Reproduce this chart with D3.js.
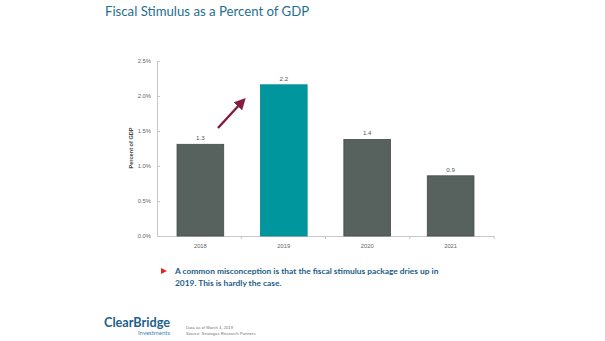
<!DOCTYPE html>
<html lang="en">
<head>
  <meta charset="UTF-8">
  <title>Fiscal Stimulus as a Percent of GDP</title>
  <script src="https://d3js.org/d3.v7.min.js"></script>
  <style>
    body { margin: 0; background: #fff; }
    svg { display: block; }
  </style>
</head>
<body>
  <svg width="605" height="341"></svg>

  <script>
    // Chart data
    const years = ['2018', '2019', '2020', '2021'];
    const stimulus = [1.31, 2.16, 1.38, 0.86];
    const highlightYear = '2019';
    const yTicks = [0, 0.5, 1.0, 1.5, 2.0, 2.5];

    const svg = d3.select('svg');

    // Title
    svg.append('text')
      .attr('x', 105)
      .attr('y', 16)
      .attr('font-family', 'Lato, sans-serif')
      .attr('font-size', 13.2)
      .attr('fill', '#1f6f8f')
      .text('Fiscal Stimulus as a Percent of GDP');

    // Scales
    const x = d3.scaleBand().domain(years).range([157, 494]).paddingInner(0.44).paddingOuter(0.24);
    const y = d3.scaleLinear().domain([0, 2.5]).range([236, 61]);

    // Y axis
    const yAxis = svg.append('g')
      .attr('transform', 'translate(157,0)')
      .call(d3.axisLeft(y).tickValues(yTicks).tickSize(-3).tickPadding(6)
        .tickFormat(d => d.toFixed(1) + '%'));
    yAxis.select('.domain').attr('stroke', '#c8c8c8');
    yAxis.selectAll('.tick line').attr('stroke', '#c8c8c8');
    yAxis.selectAll('text')
      .attr('font-family', 'Liberation Sans, Arial, sans-serif')
      .attr('font-size', 5.8)
      .attr('fill', '#666');

    // X axis
    const xAxis = svg.append('g')
      .attr('transform', 'translate(0,236)')
      .call(d3.axisBottom(x).tickSize(0).tickPadding(8));
    xAxis.select('.domain').attr('stroke', '#c8c8c8');
    xAxis.selectAll('text')
      .attr('font-family', 'Liberation Sans, Arial, sans-serif')
      .attr('font-size', 5.8)
      .attr('fill', '#666');
    // boundary ticks between categories
    xAxis.selectAll('.sep')
      .data(d3.range(1, years.length + 1))
      .enter().append('line')
      .attr('x1', i => 157 + i * (494 - 157) / years.length)
      .attr('x2', i => 157 + i * (494 - 157) / years.length)
      .attr('y1', 0).attr('y2', 3)
      .attr('stroke', '#c8c8c8');

    // Y axis title
    svg.append('text')
      .attr('transform', 'translate(133,148) rotate(-90)')
      .attr('text-anchor', 'middle')
      .attr('font-family', 'Liberation Sans, Arial, sans-serif')
      .attr('font-weight', 'bold')
      .attr('font-size', 5.6)
      .attr('fill', '#444')
      .text('Percent of GDP');

    // Bars
    svg.selectAll('.bar')
      .data(years)
      .enter().append('rect')
      .attr('class', 'bar')
      .attr('x', d => x(d))
      .attr('width', x.bandwidth())
      .attr('y', (d, i) => y(stimulus[i]))
      .attr('height', (d, i) => y(0) - y(stimulus[i]))
      .attr('fill', d => d === highlightYear ? '#00969e' : '#57615d')
      .attr('stroke', d => d === highlightYear ? '#008a92' : '#444c49')
      .attr('stroke-width', 0.8);

    // Value labels
    svg.selectAll('.val')
      .data(years)
      .enter().append('text')
      .attr('class', 'val')
      .attr('x', d => x(d) + x.bandwidth() / 2)
      .attr('y', (d, i) => y(stimulus[i]) - 4)
      .attr('text-anchor', 'middle')
      .attr('font-family', 'Liberation Sans, Arial, sans-serif')
      .attr('font-size', 6.2)
      .attr('fill', '#555')
      .text((d, i) => stimulus[i].toFixed(1));

    // Arrow toward the highlighted bar
    const defs = svg.append('defs');
    defs.append('marker')
      .attr('id', 'head')
      .attr('viewBox', '0 0 10 10')
      .attr('refX', 4).attr('refY', 5)
      .attr('markerWidth', 4.8).attr('markerHeight', 4.8)
      .attr('orient', 'auto')
      .append('path')
      .attr('d', 'M0,0 L10,5 L0,10 z')
      .attr('fill', '#851b3f');

    svg.append('line')
      .attr('x1', 218).attr('y1', 128)
      .attr('x2', 241).attr('y2', 103)
      .attr('stroke', '#851b3f')
      .attr('stroke-width', 2.4)
      .attr('marker-end', 'url(#head)');

    // Commentary bullet
    svg.append('path')
      .attr('d', 'M161,268 L167,271 L161,274 z')
      .attr('fill', '#e0262b');

    const note = svg.append('text')
      .attr('font-family', 'Lato, sans-serif')
      .attr('font-weight', 'bold')
      .attr('font-size', 8.4)
      .attr('fill', '#1b5d86');
    note.append('tspan').attr('x', 175).attr('y', 274)
      .text('A common misconception is that the fiscal stimulus package dries up in');
    note.append('tspan').attr('x', 175).attr('y', 286)
      .text('2019. This is hardly the case.');

    // Logo
    svg.append('text')
      .attr('x', 104).attr('y', 327)
      .attr('font-family', 'Lato, sans-serif')
      .attr('font-weight', 'bold')
      .attr('font-size', 14)
      .attr('textLength', 66)
      .attr('lengthAdjust', 'spacingAndGlyphs')
      .attr('fill', '#1d5f8d')
      .text('ClearBridge');
    svg.append('text')
      .attr('x', 170).attr('y', 335)
      .attr('text-anchor', 'end')
      .attr('font-family', 'Lato, sans-serif')
      .attr('font-size', 6)
      .attr('fill', '#3d86b8')
      .text('Investments');

    // Footnotes
    const foot = svg.append('text')
      .attr('font-family', 'Liberation Sans, Arial, sans-serif')
      .attr('font-size', 4.2)
      .attr('fill', '#777');
    foot.append('tspan').attr('x', 186).attr('y', 329).text('Data as of March 4, 2019');
    foot.append('tspan').attr('x', 186).attr('y', 335).text('Source: Strategas Research Partners');
  </script>
</body>
</html>
